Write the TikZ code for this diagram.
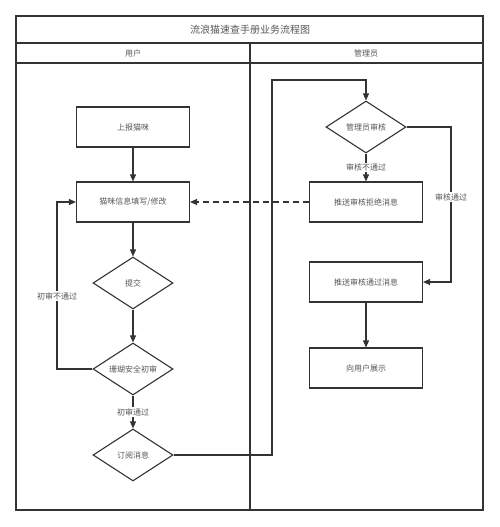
\documentclass[tikz,border=0pt]{standalone}
\usepackage{fontspec}
\newfontfamily\cjk{Noto Sans CJK SC}
\usetikzlibrary{shapes.geometric,arrows.meta}

\definecolor{linegray}{HTML}{333333}
\definecolor{textgray}{HTML}{555555}

\tikzset{
  stepbox/.style={rectangle, draw=linegray, line width=1.1pt, minimum width=113pt, minimum height=40pt, inner sep=0pt, font=\cjk\fontsize{8}{9}\selectfont, text=textgray},
  choice/.style={diamond, draw=linegray, line width=1.1pt, minimum width=80pt, minimum height=52pt, aspect=1.54, inner sep=0pt, font=\cjk\fontsize{8}{9}\selectfont, text=textgray},
  flow/.style={draw=linegray, line width=1.1pt, -{Triangle[length=7pt,width=6pt]}},
  tag/.style={fill=white, inner sep=1pt, font=\cjk\fontsize{8}{9}\selectfont, text=textgray}
}

\begin{document}
\begin{tikzpicture}[x=1pt, y=-1pt]
\useasboundingbox (0,0) rectangle (500,527);

% swimlanes
\draw[linegray, line width=1.1pt] (16,16) rectangle (483,510);
\draw[linegray, line width=1.1pt] (16,43) -- (483,43);
\draw[linegray, line width=1.1pt] (16,63) -- (483,63);
\draw[linegray, line width=1.1pt] (250,43) -- (250,510);
\node[text=textgray, font=\cjk\fontsize{10}{12}\selectfont] (title) at (250,30) {流浪猫速查手册业务流程图};
\node[text=textgray, font=\cjk\fontsize{8}{9}\selectfont] (laneuser) at (133,53) {用户};
\node[text=textgray, font=\cjk\fontsize{8}{9}\selectfont] (laneadmin) at (366,53) {管理员};

% user side
\node[stepbox] (report) at (133,127) {上报猫咪};
\node[stepbox] (fill) at (133,202) {猫咪信息填写/修改};
\node[choice] (submit) at (133,283) {提交};
\node[choice] (check) at (133,369) {珊瑚安全初审};
\node[choice] (subscribe) at (133,455) {订阅消息};

% admin side
\node[choice] (audit) at (366,127) {管理员审核};
\node[stepbox] (reject) at (366,202) {推送审核拒绝消息};
\node[stepbox] (pass) at (366,282) {推送审核通过消息};
\node[stepbox] (show) at (366,368) {向用户展示};

\coordinate (loopL) at (57,296);
\coordinate (route) at (272,80);
\coordinate (passR) at (451,197);

\draw[flow] (report) -- (fill);
\draw[flow] (fill) -- (submit);
\draw[flow] (submit) -- (check);
\draw[flow] (check.west) -| (loopL) |- (fill.west);
\node[tag] at (loopL) {初审不通过};
\draw[flow] (check) -- node[tag] {初审通过} (subscribe);
\draw[flow] (subscribe.east) -| (route) -| (audit.north);

\draw[flow] (audit) -- node[tag] {审核不通过} (reject);
\draw[flow, dashed, dash pattern=on 6pt off 4pt] (reject.west) -- (fill.east);
\draw[flow] (audit.east) -| (passR) |- (pass.east);
\node[tag] at (passR) {审核通过};
\draw[flow] (pass) -- (show);

\end{tikzpicture}
\end{document}
